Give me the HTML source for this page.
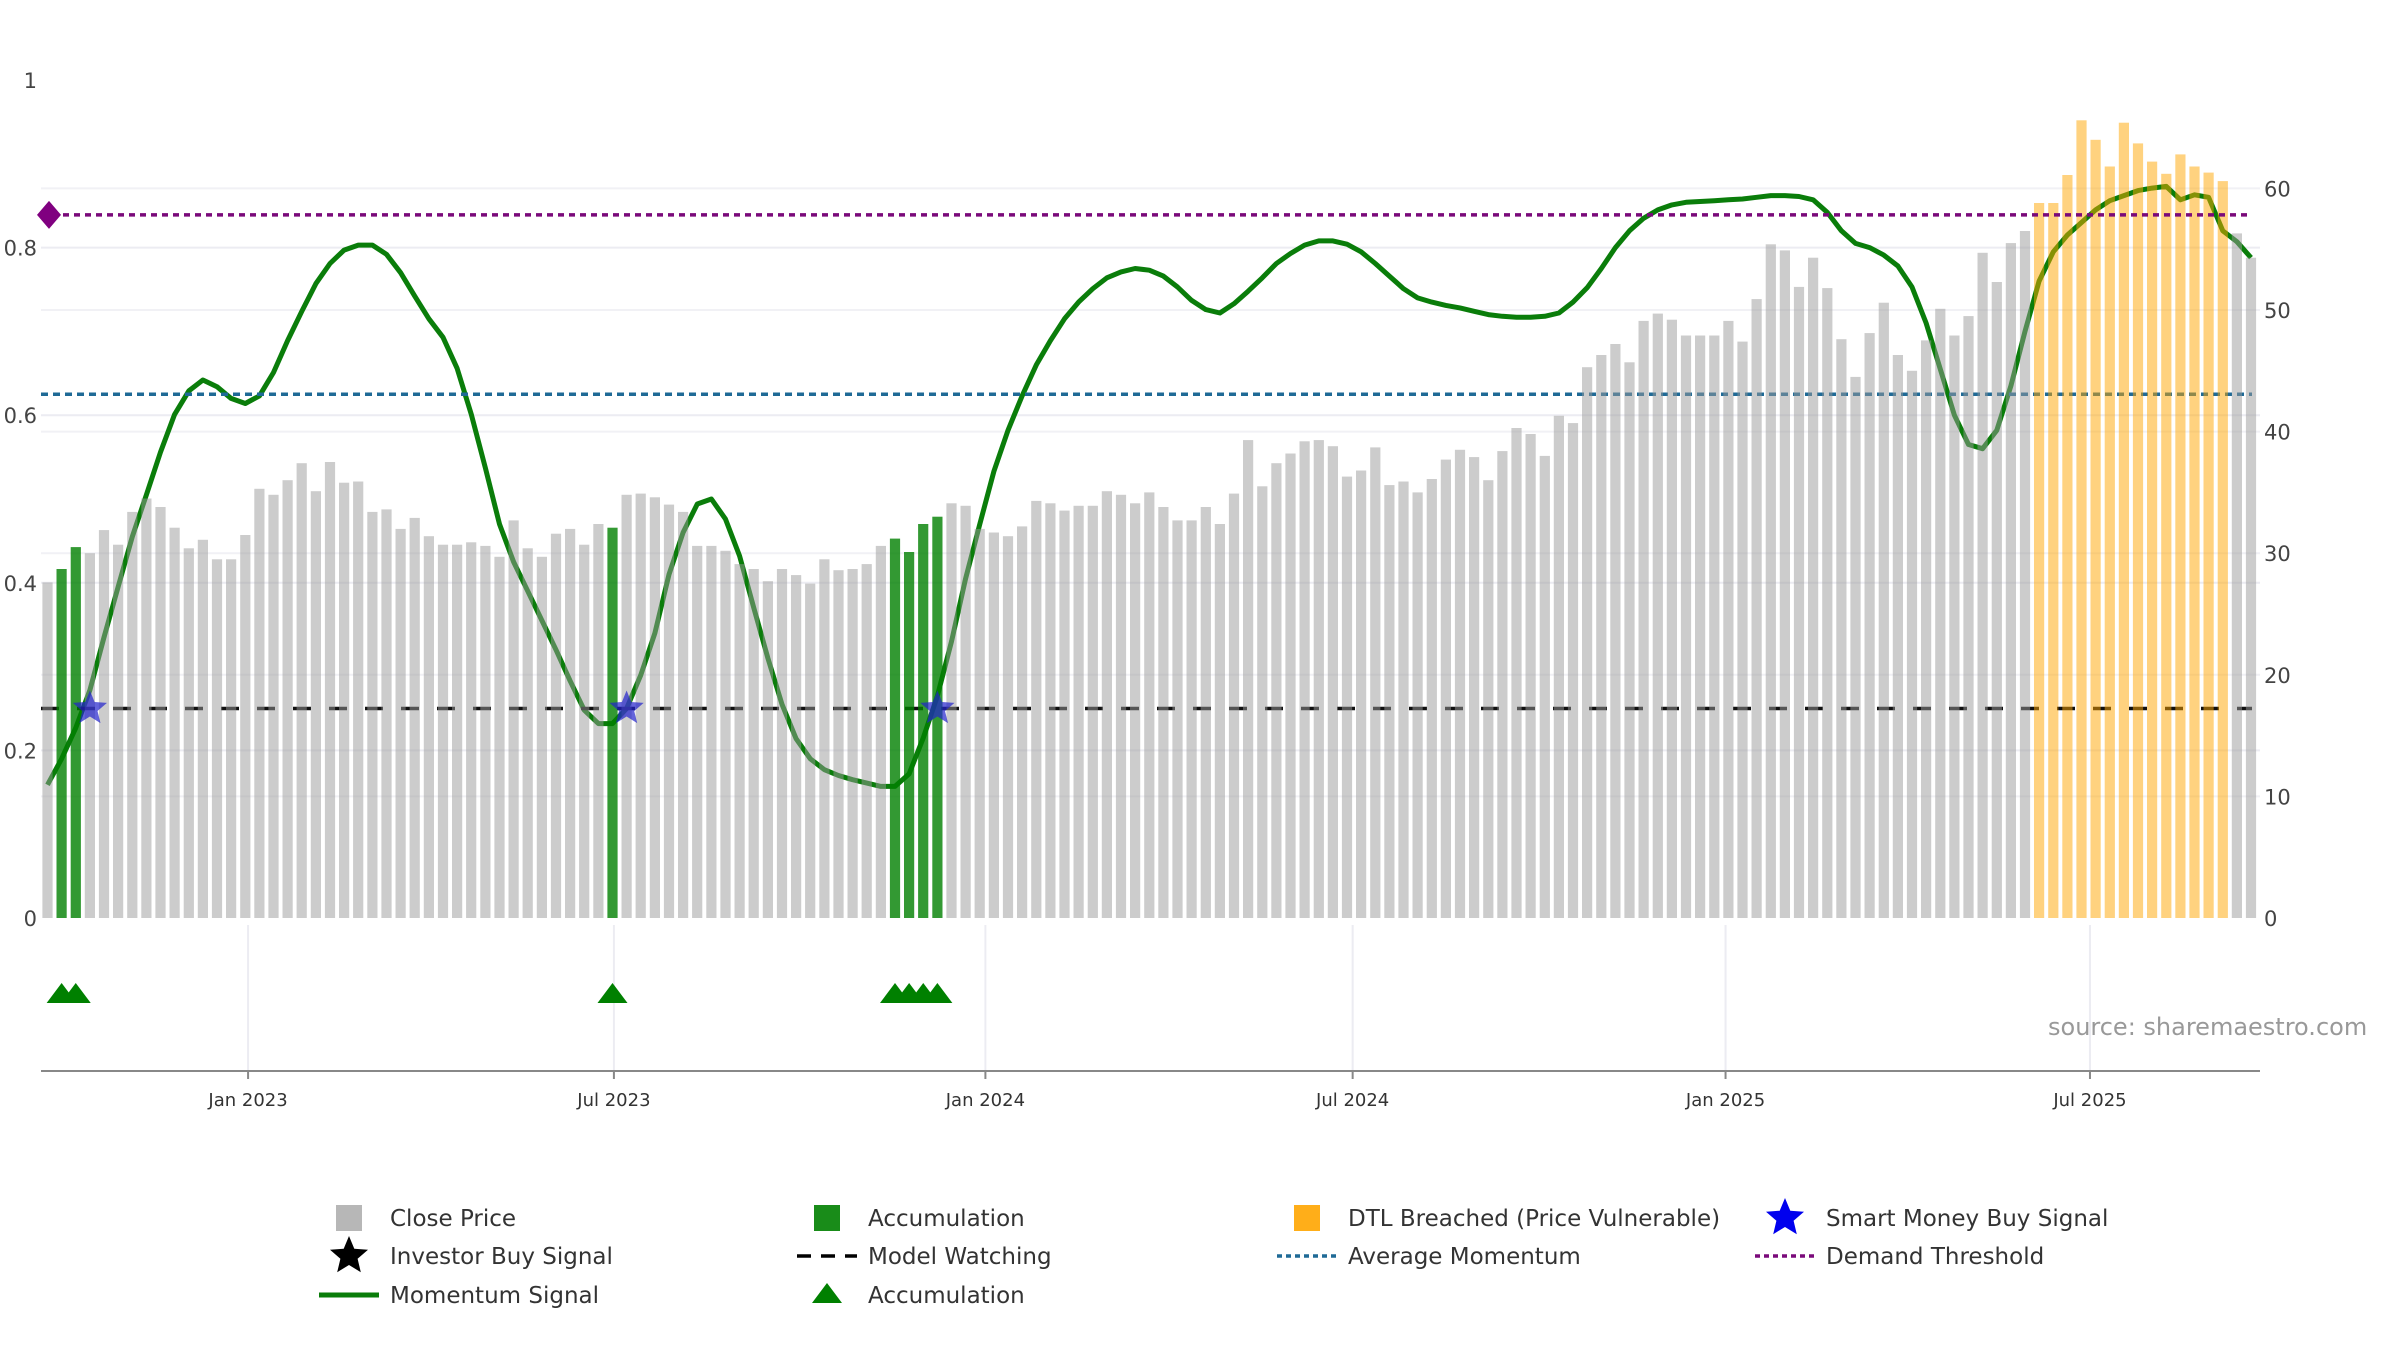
<!DOCTYPE html>
<html><head><meta charset="utf-8">
<style>
html,body{margin:0;padding:0;background:#fff;}
svg{display:block;font-family:"DejaVu Sans","Liberation Sans",sans-serif;}
</style></head>
<body>
<svg id="chart" width="2400" height="1350" viewBox="0 0 2400 1350" xmlns="http://www.w3.org/2000/svg"></svg>
<script>
// ---- data ----
const prices = [27.6,28.7,30.5,30.0,31.9,30.7,33.4,34.5,33.8,32.1,30.4,31.1,29.5,29.5,31.5,35.3,34.8,36.0,37.4,35.1,37.5,35.8,35.9,33.4,33.6,32.0,32.9,31.4,30.7,30.7,30.9,30.6,29.7,32.7,30.4,29.7,31.6,32.0,30.7,32.4,32.1,34.8,34.9,34.6,34.0,33.4,30.6,30.6,30.2,29.1,28.7,27.7,28.7,28.2,27.5,29.5,28.6,28.7,29.1,30.6,31.2,30.1,32.4,33.0,34.1,33.9,32.0,31.7,31.4,32.2,34.3,34.1,33.5,33.9,33.9,35.1,34.8,34.1,35.0,33.8,32.7,32.7,33.8,32.4,34.9,39.3,35.5,37.4,38.2,39.2,39.3,38.8,36.3,36.8,38.7,35.6,35.9,35.0,36.1,37.7,38.5,37.9,36.0,38.4,40.3,39.8,38.0,41.3,40.7,45.3,46.3,47.2,45.7,49.1,49.7,49.2,47.9,47.9,47.9,49.1,47.4,50.9,55.4,54.9,51.9,54.3,51.8,47.6,44.5,48.1,50.6,46.3,45.0,47.5,50.1,47.9,49.5,54.7,52.3,55.5,56.5,58.8,58.8,61.1,65.6,64.0,61.8,65.4,63.7,62.2,61.2,62.8,61.8,61.3,60.6,56.3,54.3];
const momentum = [.159,.19,.227,.272,.335,.395,.455,.505,.556,.601,.629,.642,.634,.62,.614,.623,.651,.689,.724,.757,.781,.797,.803,.803,.792,.77,.742,.715,.693,.656,.601,.537,.47,.425,.39,.355,.32,.283,.248,.232,.232,.25,.29,.34,.41,.46,.494,.5,.476,.432,.37,.31,.255,.214,.19,.177,.17,.165,.161,.157,.157,.172,.215,.265,.33,.405,.47,.533,.582,.623,.66,.689,.715,.735,.751,.764,.771,.775,.773,.766,.753,.737,.726,.722,.733,.748,.764,.781,.793,.803,.808,.808,.804,.795,.781,.766,.751,.74,.735,.731,.728,.724,.72,.718,.717,.717,.718,.722,.735,.752,.775,.8,.82,.835,.845,.851,.854,.855,.856,.857,.858,.86,.862,.862,.861,.857,.842,.82,.805,.8,.791,.778,.753,.71,.655,.6,.565,.56,.582,.635,.7,.76,.795,.815,.83,.845,.856,.862,.868,.871,.873,.857,.863,.86,.82,.807,.788];
const accumulationIdx = [1,2,40,60,61,62,63];
const dtlIdx = [141,142,143,144,145,146,147,148,149,150,151,152,153,154];
const starIdx = [3,41,63];
const triangleIdx = [1,2,40,60,61,62,63];
const demandThreshold = 0.839;
const avgMomentum = 0.625;
const modelWatching = 0.25;
const leftTicks = [0,0.2,0.4,0.6,0.8,1];
const leftTickLabels = ["0","0.2","0.4","0.6","0.8","1"];
const rightTicks = [0,10,20,30,40,50,60];
const dateTickWeeks = [14.2,40.1,66.4,92.4,118.8,144.6];
const dateTickLabels = ["Jan 2023","Jul 2023","Jan 2024","Jul 2024","Jan 2025","Jul 2025"];

// ---- scales ----
const NS="http://www.w3.org/2000/svg";
const svg=document.getElementById('chart');
const X0=47.5, STEP=14.125, Y0=918;
const xAt=i=>X0+i*STEP;
const yL=v=>Y0-v*838;
const yR=p=>Y0-p*12.16;
const PL=41, PR=2260, LEND=2252;
function mk(tag,attrs,parent){const e=document.createElementNS(NS,tag);for(const k in attrs)e.setAttribute(k,attrs[k]);(parent||svg).appendChild(e);return e;}

// gridlines
const grid=mk('g',{});


leftTicks.forEach(v=>{if(v>0&&v<1)mk('line',{x1:PL,x2:PR,y1:yL(v),y2:yL(v),stroke:'#ececf2','stroke-width':2},grid);});
rightTicks.forEach(v=>{if(v>0)mk('line',{x1:PL,x2:PR,y1:yR(v),y2:yR(v),stroke:'#f1f1f5','stroke-width':2},grid);});
dateTickWeeks.forEach(w=>{mk('line',{x1:xAt(w),x2:xAt(w),y1:925,y2:1071,stroke:'#ececf2','stroke-width':2},grid);});

// momentum line (under bars)
let d='';momentum.forEach((v,i)=>{d+=(i?'L':'M')+xAt(i).toFixed(1)+','+yL(v).toFixed(1);});
const ml=mk('path',{d:d,fill:'none',stroke:'#0a7d0a','stroke-width':5,'stroke-linejoin':'round'});



// reference lines
const lw=mk('line',{x1:PL,x2:LEND,y1:yL(modelWatching),y2:yL(modelWatching),stroke:'#111','stroke-width':3.5,'stroke-dasharray':'18 18'});


const la=mk('line',{x1:PL,x2:LEND,y1:yL(avgMomentum),y2:yL(avgMomentum),stroke:'#1f6a96','stroke-width':3.5,'stroke-dasharray':'7 5'});



// bars
const bars=mk('g',{});


prices.forEach((p,i)=>{
  let fill='#999999',op=0.5,name='close-price-bar';
  if(accumulationIdx.includes(i)){fill='#008000';op=0.8;name='accumulation-bar';}
  else if(dtlIdx.includes(i)){fill='#ffa500';op=0.5;name='dtl-breached-bar';}
  const r=mk('rect',{x:(xAt(i)-5.1).toFixed(1),y:yR(p).toFixed(1),width:10.2,height:(Y0-yR(p)).toFixed(1),fill:fill,'fill-opacity':op},bars);
  
  
});

// demand threshold
const lp=mk('line',{x1:PL,x2:LEND,y1:yL(demandThreshold),y2:yL(demandThreshold),stroke:'#7a0a7a','stroke-width':3.5,'stroke-dasharray':'6 5'});


const yd=yL(demandThreshold);
const dm=mk('polygon',{points:`${PL+8},${yd-14} ${PL+20},${yd} ${PL+8},${yd+14} ${PL-4},${yd}`,fill:'#800080'});



function starPts(cx,cy,R,r){let s='';for(let k=0;k<10;k++){const a=-Math.PI/2+k*Math.PI/5;const rr=k%2?r:R;s+=(cx+rr*Math.cos(a)).toFixed(1)+','+(cy+rr*Math.sin(a)).toFixed(1)+' ';}return s;}
starIdx.forEach(i=>{
  const s=mk('polygon',{points:starPts(xAt(i),yL(modelWatching),18,8),fill:'#2222cc','fill-opacity':0.7});
  
  
});
triangleIdx.forEach(i=>{
  const cx=xAt(i),cy=993;
  const t=mk('polygon',{points:`${cx-15},${cy+10} ${cx},${cy-10} ${cx+15},${cy+10}`,fill:'#008000'});
  
  
});

// axes
const ax=mk('line',{x1:PL,x2:PR,y1:1071,y2:1071,stroke:'#888','stroke-width':2});


leftTicks.forEach((v,k)=>{
  const t=mk('text',{x:37,y:yL(v)+8,'text-anchor':'end','font-size':21,fill:'#444'});
  t.textContent=leftTickLabels[k];
  
  
});
rightTicks.forEach(v=>{
  const t=mk('text',{x:2264,y:yR(v)+8,'font-size':21,fill:'#444'});
  t.textContent=String(v);
  
  
});
dateTickWeeks.forEach((w,k)=>{
  mk('line',{x1:xAt(w),x2:xAt(w),y1:1071,y2:1079,stroke:'#888','stroke-width':2});
  const t=mk('text',{x:xAt(w),y:1106,'text-anchor':'middle','font-size':18,fill:'#333'});
  t.textContent=dateTickLabels[k];
  
  
});
const src=mk('text',{x:2048,y:1035,'font-size':24,fill:'#999'});
src.textContent='source: sharemaestro.com';



// legend
const lg=mk('g',{});


const rows=[1218,1256,1295];
const cols=[349,827,1307,1785];
function ltext(c,r,s){const t=mk('text',{x:cols[c]+41,y:rows[r]+8,'font-size':23,fill:'#333'},lg);t.textContent=s;}
function sq(c,r,f,o){mk('rect',{x:cols[c]-13,y:rows[r]-13,width:26,height:26,fill:f,'fill-opacity':o},lg);}
sq(0,0,'#999',0.7);ltext(0,0,'Close Price');
sq(1,0,'#008000',0.9);ltext(1,0,'Accumulation');
sq(2,0,'#ffa500',0.9);ltext(2,0,'DTL Breached (Price Vulnerable)');
mk('polygon',{points:starPts(cols[3],rows[0],20,9),fill:'#0000ee'},lg);ltext(3,0,'Smart Money Buy Signal');
mk('polygon',{points:starPts(cols[0],rows[1],20,9),fill:'#000'},lg);ltext(0,1,'Investor Buy Signal');
mk('line',{x1:cols[1]-30,x2:cols[1]+30,y1:rows[1],y2:rows[1],stroke:'#000','stroke-width':3.5,'stroke-dasharray':'14 10'},lg);ltext(1,1,'Model Watching');
mk('line',{x1:cols[2]-30,x2:cols[2]+30,y1:rows[1],y2:rows[1],stroke:'#1f6a96','stroke-width':3.5,'stroke-dasharray':'5 4'},lg);ltext(2,1,'Average Momentum');
mk('line',{x1:cols[3]-30,x2:cols[3]+30,y1:rows[1],y2:rows[1],stroke:'#7a0a7a','stroke-width':3.5,'stroke-dasharray':'5 4'},lg);ltext(3,1,'Demand Threshold');
mk('line',{x1:cols[0]-30,x2:cols[0]+30,y1:rows[2],y2:rows[2],stroke:'#0a7d0a','stroke-width':5},lg);ltext(0,2,'Momentum Signal');
mk('polygon',{points:`${cols[1]-15},${rows[2]+8} ${cols[1]},${rows[2]-12} ${cols[1]+15},${rows[2]+8}`,fill:'#008000'},lg);ltext(1,2,'Accumulation');
</script>
</body></html>
